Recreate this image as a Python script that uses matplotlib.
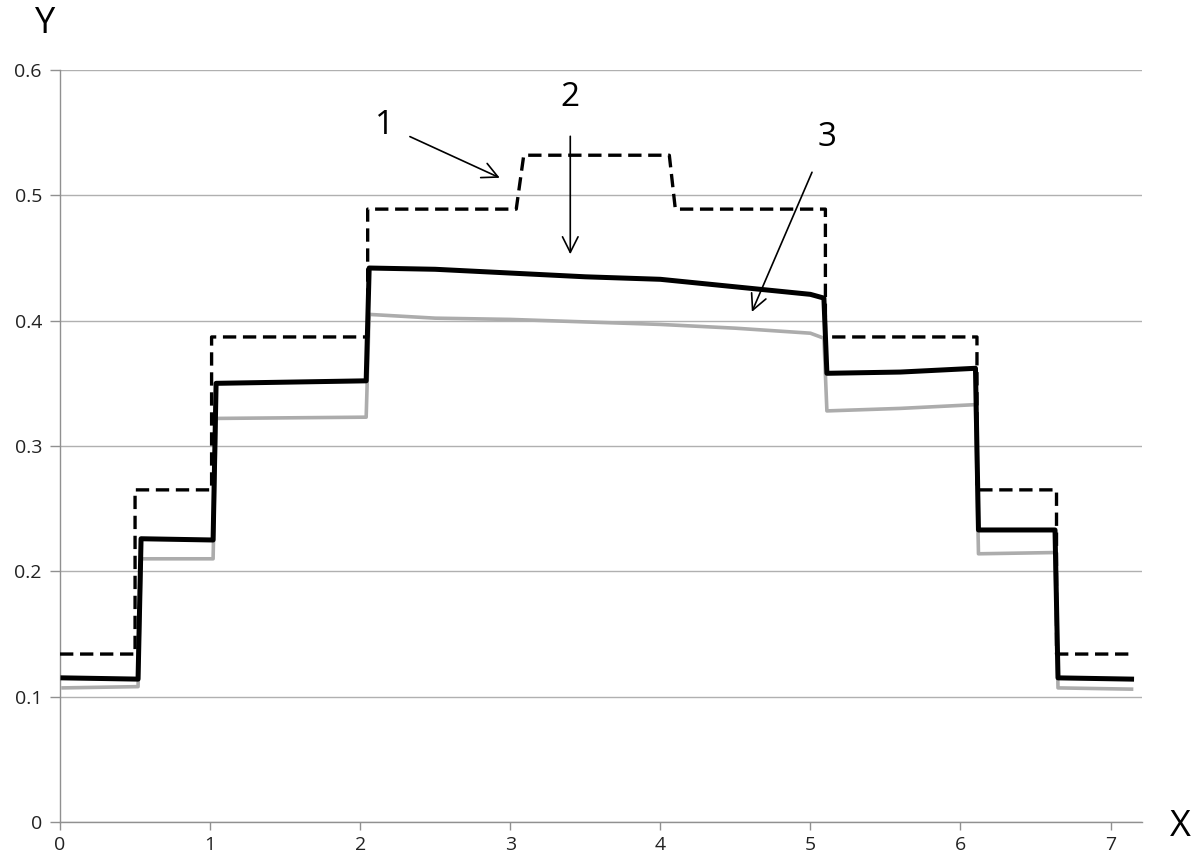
import matplotlib
matplotlib.use("Agg")
import matplotlib.pyplot as plt

plt.rcParams['font.family'] = ['Open Sans', 'DejaVu Sans']

# кривая 1 - заданный ступенчатый профиль (пунктир)
ideal_x = [0.0, 0.50, 0.50, 1.01, 1.01, 2.05, 2.05, 3.04, 3.09, 4.06, 4.10, 5.10,
           5.10, 6.11, 6.11, 6.64, 6.64, 7.15]
ideal_y = [0.134, 0.134, 0.265, 0.265, 0.387, 0.387, 0.489, 0.489, 0.532, 0.532,
           0.489, 0.489, 0.387, 0.387, 0.265, 0.265, 0.134, 0.134]

# кривые 2 и 3 - измеренные профили
meas_x = [0.02, 0.52, 0.54, 1.02, 1.04, 2.04, 2.06, 2.5, 3.0, 3.5, 4.0, 4.5, 5.0,
          5.09, 5.11, 5.6, 6.10, 6.12, 6.63, 6.65, 7.14]
curve2_y = [0.115, 0.114, 0.226, 0.225, 0.350, 0.352, 0.442, 0.441, 0.438, 0.435,
            0.433, 0.427, 0.421, 0.418, 0.358, 0.359, 0.362, 0.233, 0.233, 0.115, 0.114]
curve3_y = [0.107, 0.108, 0.210, 0.210, 0.322, 0.323, 0.405, 0.402, 0.401, 0.399,
            0.397, 0.394, 0.390, 0.386, 0.328, 0.330, 0.333, 0.214, 0.215, 0.107, 0.106]

x_ticks = [0, 1, 2, 3, 4, 5, 6, 7]
y_ticks = [0, 0.1, 0.2, 0.3, 0.4, 0.5, 0.6]
y_tick_labels = ['0', '0.1', '0.2', '0.3', '0.4', '0.5', '0.6']

fig = plt.figure(figsize=(11.98, 8.61), dpi=100)
ax = fig.add_axes([0.0501, 0.0453, 0.9032, 0.8734])

ax.plot(meas_x, curve3_y, color='#acacac', lw=2.6, zorder=3)
ax.plot(meas_x, curve2_y, color='black', lw=3.6, zorder=4)
ax.plot(ideal_x, ideal_y, color='black', lw=2.4, ls=(0, (4, 2)), zorder=5)

ax.set_xlim(0, 7.21)
ax.set_ylim(0, 0.6)
ax.set_xticks(x_ticks)
ax.set_yticks(y_ticks)
ax.set_xticklabels([str(v) for v in x_ticks])
ax.set_yticklabels(y_tick_labels)
ax.tick_params(axis='both', labelsize=14, colors='#222222', length=6,
               color='#909090', width=1)
ax.tick_params(axis='y', length=7, pad=6)
ax.tick_params(axis='x', pad=4)

ax.yaxis.grid(True, color='#b0b0b0', lw=1)
ax.set_axisbelow(True)
for s in ['top', 'right']:
    ax.spines[s].set_visible(False)
for s in ['left', 'bottom']:
    ax.spines[s].set_color('#909090')
    ax.spines[s].set_linewidth(1)

# подписи осей
fig.text(0.038, 0.972, 'Y', fontsize=26, ha='center', va='center')
fig.text(0.985, 0.040, 'X', fontsize=26, ha='center', va='center')

# номера кривых со стрелками
arr = dict(arrowstyle='->', color='black', lw=1.2, mutation_scale=28)
ax.annotate('1', xy=(2.93, 0.514), xytext=(2.165, 0.556), fontsize=24,
            ha='center', va='center', arrowprops=dict(arr, shrinkA=10, shrinkB=0))
ax.annotate('2', xy=(3.40, 0.453), xytext=(3.40, 0.578), fontsize=24,
            ha='center', va='center', arrowprops=dict(arr, shrinkA=14, shrinkB=0))
ax.annotate('3', xy=(4.61, 0.407), xytext=(5.11, 0.546), fontsize=24,
            ha='center', va='center', arrowprops=dict(arr, shrinkA=12, shrinkB=0))

fig.savefig('out.png', dpi=100)
